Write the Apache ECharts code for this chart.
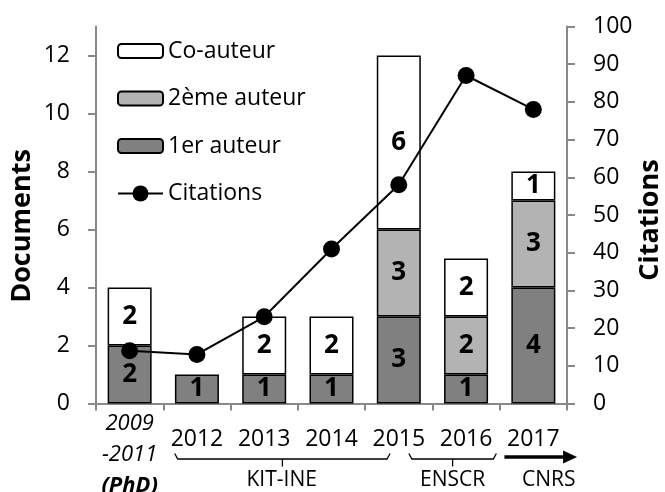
<!DOCTYPE html>
<html>
<head>
<meta charset="utf-8">
<script src="https://cdn.jsdelivr.net/npm/echarts@6/dist/echarts.min.js"></script>
<style>
html,body{margin:0;padding:0;background:#fff;}
#c{width:665px;height:492px;}
</style>
</head>
<body>
<div id="c"></div>
<script>
var categories = ['2009\n-2011\n(PhD)', '2012', '2013', '2014', '2015', '2016', '2017'];
var premierAuteur = [2, 1, 1, 1, 3, 1, 4];
var deuxiemeAuteur = [0, 0, 0, 0, 3, 2, 3];
var coAuteur = [2, 0, 2, 2, 6, 2, 1];
var citations = [14, 13, 23, 41, 58, 87, 78];
var leftTicks = [0, 2, 4, 6, 8, 10, 12];
var rightTicks = [0, 10, 20, 30, 40, 50, 60, 70, 80, 90, 100];
// affiliation groups: [label, start (category units), end (category units), label centre]
var groups = [['KIT-INE', 0.67, 3.87, 2.26], ['ENSCR', 4.15, 5.45, 4.80]];
var arrowGroup = ['CNRS', 5.57, 6.65, 6.23];

var FONT = '"Open Sans", "Noto Sans", sans-serif';
var AX = '#888888';

function nz(a){ return a.map(function(v){ return v === 0 ? '-' : v; }); }

var barLabel = {
  show: true, position: 'inside', color: '#000', fontFamily: FONT,
  fontWeight: 'bold', fontSize: 26,
  formatter: function(p){ return p.value ? String(p.value) : ''; }
};
function barSeries(name, data, color){
  return {
    name: name, type: 'bar', stack: 'docs', data: nz(data), barWidth: 44,
    itemStyle: { color: color, borderColor: '#000', borderWidth: 1.5 },
    label: barLabel, z: 2
  };
}

var chart = echarts.init(document.getElementById('c'), null, {renderer: 'canvas'});
chart.setOption({
  animation: false,
  backgroundColor: '#fff',
  textStyle: { fontFamily: FONT },
  grid: { left: 96, right: 98, top: 26.5, bottom: 88.5, containLabel: false, outerBoundsMode: 'none' },
  legend: [{
    orient: 'vertical', left: 117, top: 38, padding: 0,
    itemWidth: 45, itemHeight: 14, itemGap: 21.5,
    textStyle: { fontFamily: FONT, fontSize: 23, color: '#000', lineHeight: 26 },
    data: ['Co-auteur', '2ème auteur', '1er auteur']
  }, {
    orient: 'vertical', left: 117, top: 180.5, padding: 0,
    itemWidth: 45, itemHeight: 20,
    textStyle: { fontFamily: FONT, fontSize: 23, color: '#000', lineHeight: 26 },
    data: ['Citations']
  }],
  xAxis: {
    type: 'category', data: categories,
    axisLine: { show: true, lineStyle: { color: AX, width: 2 } },
    axisTick: { show: true, length: 7, interval: 0, lineStyle: { color: AX, width: 2 } },
    axisLabel: {
      interval: 0, margin: 5, color: '#000',
      formatter: function(v){
        var parts = v.split('\n');
        if (parts.length > 1) {
          return parts.map(function(p, i){ return (i === parts.length - 1 ? '{ib|' : '{i|') + p + '}'; }).join('\n');
        }
        return '{n|' + v + '}';
      },
      rich: {
        i: { fontFamily: FONT, fontSize: 22, fontStyle: 'italic', lineHeight: 31, color: '#000' },
        ib: { fontFamily: FONT, fontSize: 22, fontStyle: 'italic', fontWeight: 'bold', lineHeight: 31, color: '#000' },
        n: { fontFamily: FONT, fontSize: 23, lineHeight: 62, color: '#000' }
      }
    }
  },
  yAxis: [{
    type: 'value', min: 0, max: 13, interval: 2, position: 'left',
    name: 'Documents', nameLocation: 'middle', nameGap: 60, nameRotate: 90, nameMoveOverlap: false,
    nameTextStyle: { fontFamily: FONT, fontSize: 27, fontWeight: 'bold', color: '#000', padding: [0, 22, 0, 0] },
    axisLine: { show: true, lineStyle: { color: AX, width: 2 } },
    axisTick: { show: true, length: 8, customValues: leftTicks, lineStyle: { color: AX, width: 2 } },
    axisLabel: { margin: 26, color: '#000', fontFamily: FONT, fontSize: 23, customValues: leftTicks },
    splitLine: { show: false }
  }, {
    type: 'value', min: 0, max: 100, interval: 10, position: 'right',
    name: 'Citations', nameLocation: 'middle', nameGap: 70, nameRotate: 90, nameMoveOverlap: false,
    nameTextStyle: { fontFamily: FONT, fontSize: 27, fontWeight: 'bold', color: '#000', padding: [0, 10, 0, 0] },
    axisLine: { show: true, lineStyle: { color: AX, width: 2 } },
    axisTick: { show: true, length: 8, customValues: rightTicks, lineStyle: { color: AX, width: 2 } },
    axisLabel: { margin: 26, color: '#000', fontFamily: FONT, fontSize: 23, customValues: rightTicks },
    splitLine: { show: false }
  }],
  series: [
    barSeries('1er auteur', premierAuteur, '#808080'),
    barSeries('2ème auteur', deuxiemeAuteur, '#b3b3b3'),
    barSeries('Co-auteur', coAuteur, '#ffffff'),
    {
      name: 'Citations', type: 'line', yAxisIndex: 1, data: citations,
      symbol: 'circle', symbolSize: 17, z: 5,
      lineStyle: { color: '#000', width: 2 },
      itemStyle: { color: '#000' }
    }
  ]
});

// Affiliation brackets under the category axis
var p0 = chart.convertToPixel({xAxisIndex: 0}, categories[0]);
var p1 = chart.convertToPixel({xAxisIndex: 0}, categories[1]);
var step = p1 - p0;
var y0 = chart.convertToPixel({yAxisIndex: 0}, 0);
function X(f){ return p0 + f * step; }
var els = [];
var ls = { stroke: '#000', lineWidth: 1.3, fill: null };
groups.forEach(function(g){
  var x1 = X(g[1]), x2 = X(g[2]), xc = X(g[3]);
  var yt = y0 + 50, yb = y0 + 55.5;
  var mid = (x1 + x2) / 2;
  els.push({ type: 'polyline', shape: { points: [[x1, yt], [x1 + 3, yb], [x2 - 3, yb], [x2, yt]] }, style: ls });
  els.push({ type: 'line', shape: { x1: mid, y1: yb, x2: mid, y2: y0 + 63 }, style: ls });
  els.push({ type: 'text', x: xc, y: y0 + 77, style: { text: g[0], fontFamily: FONT, fontSize: 21, fill: '#000', align: 'center', verticalAlign: 'middle' } });
});
(function(){
  var x1 = X(arrowGroup[1]), x2 = X(arrowGroup[2]), ya = y0 + 53.5;
  els.push({ type: 'line', shape: { x1: x1, y1: ya, x2: x2 - 12, y2: ya }, style: { stroke: '#000', lineWidth: 3.5 } });
  els.push({ type: 'polygon', shape: { points: [[x2 - 14, ya - 6.5], [x2, ya], [x2 - 14, ya + 6.5]] }, style: { fill: '#000' } });
  els.push({ type: 'text', x: X(arrowGroup[3]), y: y0 + 77, style: { text: arrowGroup[0], fontFamily: FONT, fontSize: 21, fill: '#000', align: 'center', verticalAlign: 'middle' } });
})();
chart.setOption({ graphic: els });
</script>
</body>
</html>
